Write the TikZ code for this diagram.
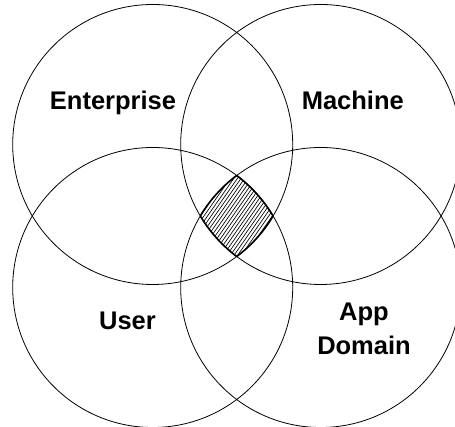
\documentclass[tikz,border=0pt]{standalone}
\usepackage{fontspec}
\setmainfont{Liberation Sans}
\begin{document}
\begin{tikzpicture}[x=1pt,y=1pt,
  ring/.style={draw=black,line width=0.8pt},
  lbl/.style={font=\fontsize{25.5}{34}\selectfont\bfseries,align=center,inner sep=0pt,anchor=base},
  hatchline/.style={line width=0.65pt}]
\useasboundingbox (0,0) rectangle (455,427);
\coordinate (cTL) at (152.7,282.5);
\coordinate (cTR) at (320.7,282.5);
\coordinate (cBL) at (152.7,139.5);
\coordinate (cBR) at (320.7,139.5);
% hatched intersection
\begin{scope}
  \clip (cTL) circle[radius=140];
  \clip (cTR) circle[radius=140];
  \clip (cBL) circle[radius=140];
  \clip (cBR) circle[radius=140];
  \foreach \k in {-24,...,24}
    \draw[hatchline] ({236.7+3.6*\k-34.4},{211.5-49.1}) -- ++(68.8,98.3);
\end{scope}
\begin{scope}
  \clip (cTL) circle[radius=140];
  \clip (cTR) circle[radius=140];
  \clip (cBL) circle[radius=140];
  \draw[line width=1.6pt] (cBR) circle[radius=140];
\end{scope}
\begin{scope}
  \clip (cTL) circle[radius=140];
  \clip (cTR) circle[radius=140];
  \clip (cBR) circle[radius=140];
  \draw[line width=1.6pt] (cBL) circle[radius=140];
\end{scope}
\begin{scope}
  \clip (cTL) circle[radius=140];
  \clip (cBL) circle[radius=140];
  \clip (cBR) circle[radius=140];
  \draw[line width=1.6pt] (cTR) circle[radius=140];
\end{scope}
\begin{scope}
  \clip (cTR) circle[radius=140];
  \clip (cBL) circle[radius=140];
  \clip (cBR) circle[radius=140];
  \draw[line width=1.6pt] (cTL) circle[radius=140];
\end{scope}
% circles
\draw[ring] (cTL) circle[radius=140];
\draw[ring] (cTR) circle[radius=140];
\draw[ring] (cBL) circle[radius=140];
\draw[ring] (cBR) circle[radius=140];
% labels
\node[lbl] (ent) at (113,317.7) {Enterprise};
\node[lbl] (mach) at (352.8,317) {Machine};
\node[lbl] (user) at (127.5,97.7) {User};
\node[lbl] (app) at (364,72) {App\\Domain};
\end{tikzpicture}
\end{document}
